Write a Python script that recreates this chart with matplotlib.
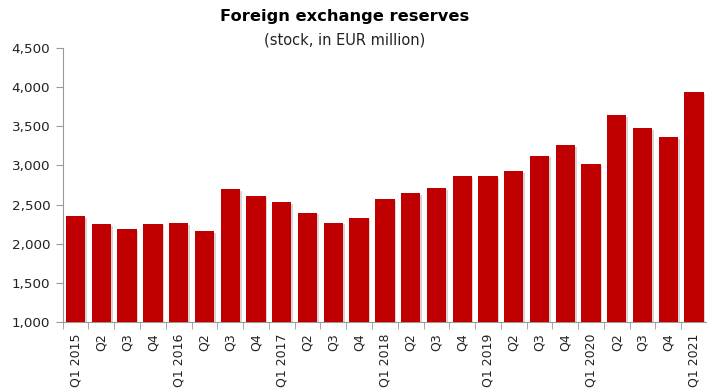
import matplotlib
matplotlib.use("Agg")
import matplotlib.pyplot as plt
import matplotlib.patheffects as pe
import numpy as np

quarters = ["Q1 2015", "Q2", "Q3", "Q4",
            "Q1 2016", "Q2", "Q3", "Q4",
            "Q1 2017", "Q2", "Q3", "Q4",
            "Q1 2018", "Q2", "Q3", "Q4",
            "Q1 2019", "Q2", "Q3", "Q4",
            "Q1 2020", "Q2", "Q3", "Q4",
            "Q1 2021"]
reserves = [2355, 2253, 2185, 2257,
            2266, 2160, 2695, 2614,
            2533, 2397, 2270, 2333,
            2571, 2644, 2712, 2865,
            2865, 2925, 3123, 3260,
            3014, 3638, 3476, 3358,
            3935]
y_ticks = [1000, 1500, 2000, 2500, 3000, 3500, 4000, 4500]

fig = plt.figure(figsize=(7.07, 3.92), dpi=100)
ax = fig.add_axes([62.7 / 707, 1 - 322.3 / 392, (707 - 62.7) / 707, (322.3 - 47.7) / 392])

x = np.arange(len(quarters))
bars = ax.bar(x, reserves, width=0.75, color="#C00000", bottom=0, zorder=3)
for b in bars:
    b.set_path_effects([pe.SimplePatchShadow(offset=(1.2, -1.2), shadow_rgbFace="#888888", alpha=0.35),
                        pe.Normal()])

ax.set_ylim(1000, 4500)
ax.set_xlim(-0.5, len(quarters) - 0.5)
ax.set_yticks(y_ticks)
ax.set_yticklabels([f"{v:,}" for v in y_ticks], fontsize=9.7, color="#222222")

ax.set_xticks(x)
ax.set_xticklabels(quarters, rotation=90, fontsize=9, color="#222222", va="top")
ax.set_xticks(np.arange(len(quarters) + 1) - 0.5, minor=True)
ax.tick_params(axis="x", which="major", length=0, pad=8)
ax.tick_params(axis="x", which="minor", length=5, color="#999999", direction="out")
ax.tick_params(axis="y", length=5, color="#999999", direction="out", pad=4)

for s in ["top", "right"]:
    ax.spines[s].set_visible(False)
for s in ["left", "bottom"]:
    ax.spines[s].set_color("#999999")

fig.text(0.487, 1 - 17 / 392, "Foreign exchange reserves", ha="center", va="center",
         fontsize=11.7, fontweight="bold", color="black")
fig.text(0.487, 1 - 40 / 392, "(stock, in EUR million)", ha="center", va="center",
         fontsize=10.5, color="#222222")

fig.savefig("out.png", dpi=100)
